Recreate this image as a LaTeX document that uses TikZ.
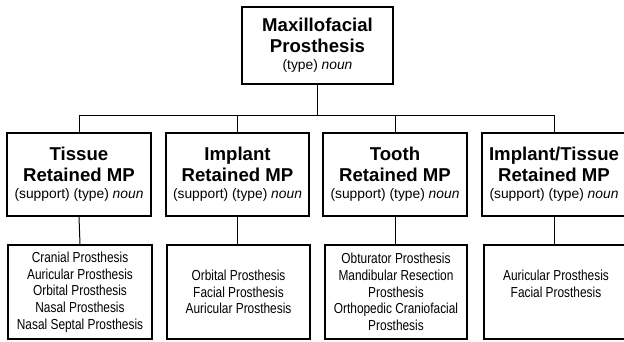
\documentclass[tikz,border=0pt]{standalone}
\usepackage{fontspec}
\setmainfont{Liberation Sans}
\newfontfamily\narrowf[FakeStretch=0.82]{Liberation Sans}
\newcommand{\titlef}{\fontsize{18.6}{21}\selectfont\bfseries}
\newcommand{\subf}{\fontsize{13.8}{16}\selectfont\mdseries}
\begin{document}
\begin{tikzpicture}[x=1pt,y=-1pt,
  boxA/.style={draw,line width=1.8pt,align=center,inner sep=0pt,
    font=\fontsize{18.6}{21}\selectfont},
  boxB/.style={draw,line width=1.8pt,align=center,inner sep=0pt,
    minimum width=143pt,minimum height=94pt,
    font=\narrowf\fontsize{14.5}{16.7}\selectfont},
  conn/.style={line width=1pt}]
\useasboundingbox (0,0) rectangle (624,341);
\node[boxA,minimum width=151pt,minimum height=77pt] (top) at (317.5,45.5)
  {\titlef Maxillofacial\\\titlef Prosthesis\\[-4pt]\subf (type) \textit{noun}};
\node[boxA,minimum width=144pt,minimum height=83pt] (t1) at (79,174.5)
  {\titlef Tissue\\\titlef Retained MP\\[-4pt]\subf (support) (type) \textit{noun}};
\node[boxA,minimum width=143pt,minimum height=83pt] (t2) at (237.5,174.5)
  {\titlef Implant\\\titlef Retained MP\\[-4pt]\subf (support) (type) \textit{noun}};
\node[boxA,minimum width=144pt,minimum height=83pt] (t3) at (395,174.5)
  {\titlef Tooth\\\titlef Retained MP\\[-4pt]\subf (support) (type) \textit{noun}};
\node[boxA,minimum width=144pt,minimum height=83pt] (t4) at (554,174.5)
  {\titlef Implant/Tissue\\\titlef Retained MP\\[-4pt]\subf (support) (type) \textit{noun}};
\node[boxB,minimum width=144pt] (l1) at (80,292)
  {Cranial Prosthesis\\Auricular Prosthesis\\Orbital Prosthesis\\Nasal Prosthesis\\Nasal Septal Prosthesis};
\node[boxB] (l2) at (238.5,292)
  {Orbital Prosthesis\\Facial Prosthesis\\Auricular Prosthesis};
\node[boxB,minimum width=142pt] (l3) at (396,292)
  {Obturator Prosthesis\\Mandibular Resection\\Prosthesis\\Orthopedic Craniofacial\\Prosthesis};
\node[boxB,minimum width=144pt] (l4) at (556,292)
  {Auricular Prosthesis\\Facial Prosthesis\\\mbox{}};
\coordinate (bus) at (317.5,115);
\draw[conn] (top.south) -- (top.south |- bus);
\draw[conn] (t1.north) -- (t1.north |- bus) -- (t4.north |- bus) -- (t4.north);
\draw[conn] (t2.north) -- (t2.north |- bus);
\draw[conn] (t3.north) -- (t3.north |- bus);
\draw[conn] (t1.south) -- (l1.north);
\draw[conn] (t2.south) -- (t2.south |- l2.north);
\draw[conn] (t3.south) -- (t3.south |- l3.north);
\draw[conn] (t4.south) -- (t4.south |- l4.north);
\end{tikzpicture}
\end{document}
